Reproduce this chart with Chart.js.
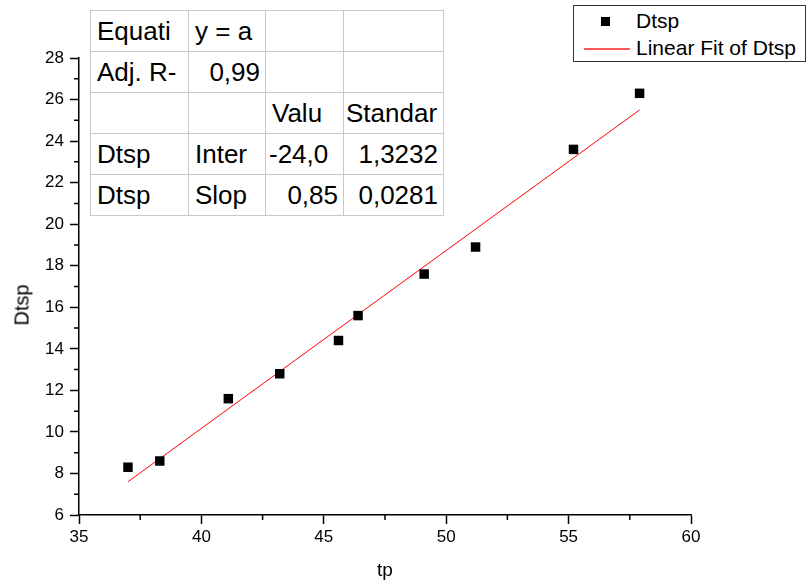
<!DOCTYPE html>
<html lang="en">
<head>
  <meta charset="UTF-8">
  <title>Dtsp vs tp</title>
  <script src="https://cdn.jsdelivr.net/npm/chart.js"></script>
  <style>
    body {
      margin: 0;
      background: #fff;
      font-family: 'Liberation Sans', Arial, sans-serif;
    }
    .wrap {
      position: relative;
      width: 807px;
      height: 586px;
    }
    #fitTable {
      position: absolute;
      left: 90px;
      top: 10px;
      border-collapse: collapse;
      table-layout: fixed;
      background: #fff;
      border: 1px solid #000;
      font-size: 26px;
      color: #000;
    }
    #fitTable td {
      height: 41px;
      padding: 0 4px 0 6px;
      border: 1px solid #c8c8c8;
      white-space: nowrap;
      overflow: hidden;
      box-sizing: border-box;
    }
    #fitTable td.r { text-align: right; padding-right: 5px; }
    .legend {
      position: absolute;
      left: 573px;
      top: 5px;
      width: 233px;
      height: 57px;
      box-sizing: border-box;
      border: 1px solid #333;
      background: #fff;
      font-size: 21px;
    }
    .legend div {
      position: absolute;
      left: 62px;
      white-space: nowrap;
    }
    .legend .sq {
      position: absolute;
      left: 27px;
      top: 11px;
      width: 9px;
      height: 9px;
      background: #000;
    }
    .legend .ln {
      position: absolute;
      left: 10px;
      top: 42px;
      width: 46px;
      height: 2px;
      background: #ff5a5a;
    }
    .ytitle {
      position: absolute;
      left: 22px;
      top: 305px;
      transform: translate(-50%, -50%) rotate(-90deg);
      font-size: 20px;
      white-space: nowrap;
    }
  </style>
</head>
<body>
<div class="wrap">
  <canvas id="chart" width="807" height="586"></canvas>

  <div class="ytitle">Dtsp</div>

  <table id="fitTable">
    <colgroup>
      <col style="width:98px"><col style="width:77px"><col style="width:78px"><col style="width:100px">
    </colgroup>
    <tr><td>Equati</td><td>y = a</td><td></td><td></td></tr>
    <tr><td>Adj. R-</td><td class="r">0,99</td><td></td><td></td></tr>
    <tr><td></td><td></td><td>Valu</td><td style="padding-left:2px">Standar</td></tr>
    <tr><td>Dtsp</td><td>Inter</td><td style="padding-left:3px">-24,0</td><td class="r">1,3232</td></tr>
    <tr><td>Dtsp</td><td>Slop</td><td class="r">0,85</td><td class="r">0,0281</td></tr>
  </table>

  <div class="legend">
    <span class="sq"></span>
    <div style="top:3px">Dtsp</div>
    <span class="ln"></span>
    <div style="top:30px">Linear Fit of Dtsp</div>
  </div>
</div>

<script>
  // measured points
  const tp = [37.0, 38.3, 41.1, 43.2, 45.6, 46.4, 49.1, 51.2, 55.2, 57.9];
  const dtsp = [8.3, 8.6, 11.6, 12.8, 14.4, 15.6, 17.6, 18.9, 23.6, 26.3];
  // linear fit end points
  const fitX = [37.0, 57.9];
  const fitY = [7.6, 25.5];

  const xMinor = [37.5, 42.5, 47.5, 52.5, 57.5];
  const yMinor = [7, 9, 11, 13, 15, 17, 19, 21, 23, 25, 27];

  const FONT = "'Liberation Sans', Arial, sans-serif";

  // short minor ticks, Origin style
  const minorTicks = {
    id: 'minorTicks',
    afterDraw(chart) {
      const ctx = chart.ctx;
      const xs = chart.scales.x, ys = chart.scales.y;
      const area = chart.chartArea;
      ctx.save();
      ctx.strokeStyle = '#000';
      ctx.lineWidth = 1.5;
      ctx.beginPath();
      xMinor.forEach(v => {
        const px = xs.getPixelForValue(v);
        ctx.moveTo(px, area.bottom);
        ctx.lineTo(px, area.bottom + 5);
      });
      yMinor.forEach(v => {
        const py = ys.getPixelForValue(v);
        ctx.moveTo(area.left, py);
        ctx.lineTo(area.left - 5, py);
      });
      ctx.stroke();
      ctx.restore();
    }
  };

  new Chart(document.getElementById('chart'), {
    type: 'scatter',
    data: {
      datasets: [
        {
          label: 'Dtsp',
          data: tp.map((x, i) => ({ x: x, y: dtsp[i] })),
          pointStyle: 'rect',
          pointRadius: 6.7,
          backgroundColor: '#000',
          borderColor: '#000',
          borderWidth: 0
        },
        {
          label: 'Linear Fit of Dtsp',
          type: 'line',
          data: fitX.map((x, i) => ({ x: x, y: fitY[i] })),
          borderColor: '#ff0000',
          borderWidth: 1,
          pointRadius: 0,
          fill: false
        }
      ]
    },
    options: {
      responsive: false,
      animation: false,
      layout: { padding: { top: 58, right: 116, left: 0, bottom: 0 } },
      plugins: {
        legend: { display: false },
        tooltip: { enabled: false }
      },
      scales: {
        x: {
          type: 'linear',
          min: 35,
          max: 60,
          afterFit: s => { s.height = 71; },
          ticks: { stepSize: 5, color: '#000', padding: 3, font: { family: FONT, size: 17 } },
          grid: { drawOnChartArea: false, color: '#000', tickLength: 9, tickWidth: 1.5 },
          border: { color: '#000', width: 1.5 },
          title: { display: true, text: 'tp', color: '#000', font: { family: FONT, size: 19 }, padding: { top: 0, bottom: 4 } }
        },
        y: {
          type: 'linear',
          min: 6,
          max: 28,
          afterFit: s => { s.width = 79; },
          ticks: { stepSize: 2, color: '#000', padding: 6, font: { family: FONT, size: 17 } },
          grid: { drawOnChartArea: false, color: '#000', tickLength: 9, tickWidth: 1.5 },
          border: { color: '#000', width: 1.5 }
        }
      }
    },
    plugins: [minorTicks]
  });
</script>
</body>
</html>
